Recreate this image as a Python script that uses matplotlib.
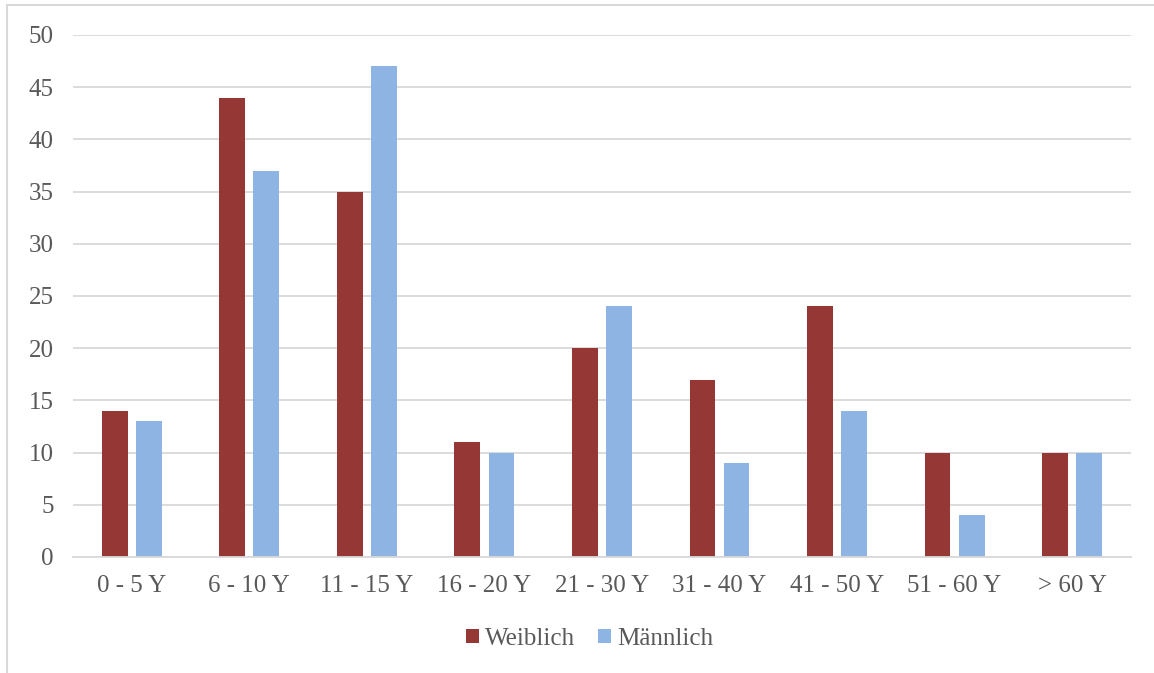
import matplotlib.pyplot as plt
import numpy as np
from matplotlib.patches import Rectangle

categories = ['0 - 5 Y', '6 - 10 Y', '11 - 15 Y', '16 - 20 Y', '21 - 30 Y',
              '31 - 40 Y', '41 - 50 Y', '51 - 60 Y', '> 60 Y']
weiblich = [14, 44, 35, 11, 20, 17, 24, 10, 10]
maennlich = [13, 37, 47, 10, 24, 9, 14, 4, 10]
yticks = [0, 5, 10, 15, 20, 25, 30, 35, 40, 45, 50]

RED = '#953735'
BLUE = '#8EB4E3'
TEXT = '#595959'
GRID = '#D9D9D9'

plt.rcParams['font.family'] = ['Liberation Serif', 'DejaVu Serif']

fig = plt.figure(figsize=(11.54, 6.73), dpi=100)
ax = fig.add_axes([0.0633, 0.1724, 0.9167, 0.7756])

x = np.arange(len(categories))
width = 0.22
offset = 0.145
ax.bar(x - offset, weiblich, width, color=RED, label='Weiblich', zorder=3)
ax.bar(x + offset, maennlich, width, color=BLUE, label='Männlich', zorder=3)

ax.set_xlim(-0.5, len(categories) - 0.5)
ax.set_ylim(0, 50)
ax.set_yticks(yticks)
ax.set_xticks(x)
ax.set_xticklabels(categories)
ax.tick_params(axis='both', length=0, labelsize=18, colors=TEXT)
ax.tick_params(axis='x', pad=13)
ax.tick_params(axis='y', pad=14)
ax.grid(axis='y', color=GRID, linewidth=1.3, zorder=0)

for side in ['top', 'right', 'left']:
    ax.spines[side].set_visible(False)
ax.spines['bottom'].set_color(GRID)
ax.spines['bottom'].set_linewidth(1.3)
ax.spines['bottom'].set_zorder(4)

leg = fig.legend(loc='center', bbox_to_anchor=(0.511, 0.051), ncol=2, frameon=False,
                 fontsize=18, handlelength=0.52, handleheight=0.52, handletextpad=0.25,
                 columnspacing=0.9)
for t in leg.get_texts():
    t.set_color(TEXT)

# chart area border (runs past the right and bottom edges)
fig.patches.append(Rectangle((7 / 1154, -0.05), 1.1, 1 - 5 / 673 + 0.05,
                             transform=fig.transFigure, fill=False,
                             edgecolor=GRID, linewidth=1.5))

fig.savefig('out.png', dpi=100)
